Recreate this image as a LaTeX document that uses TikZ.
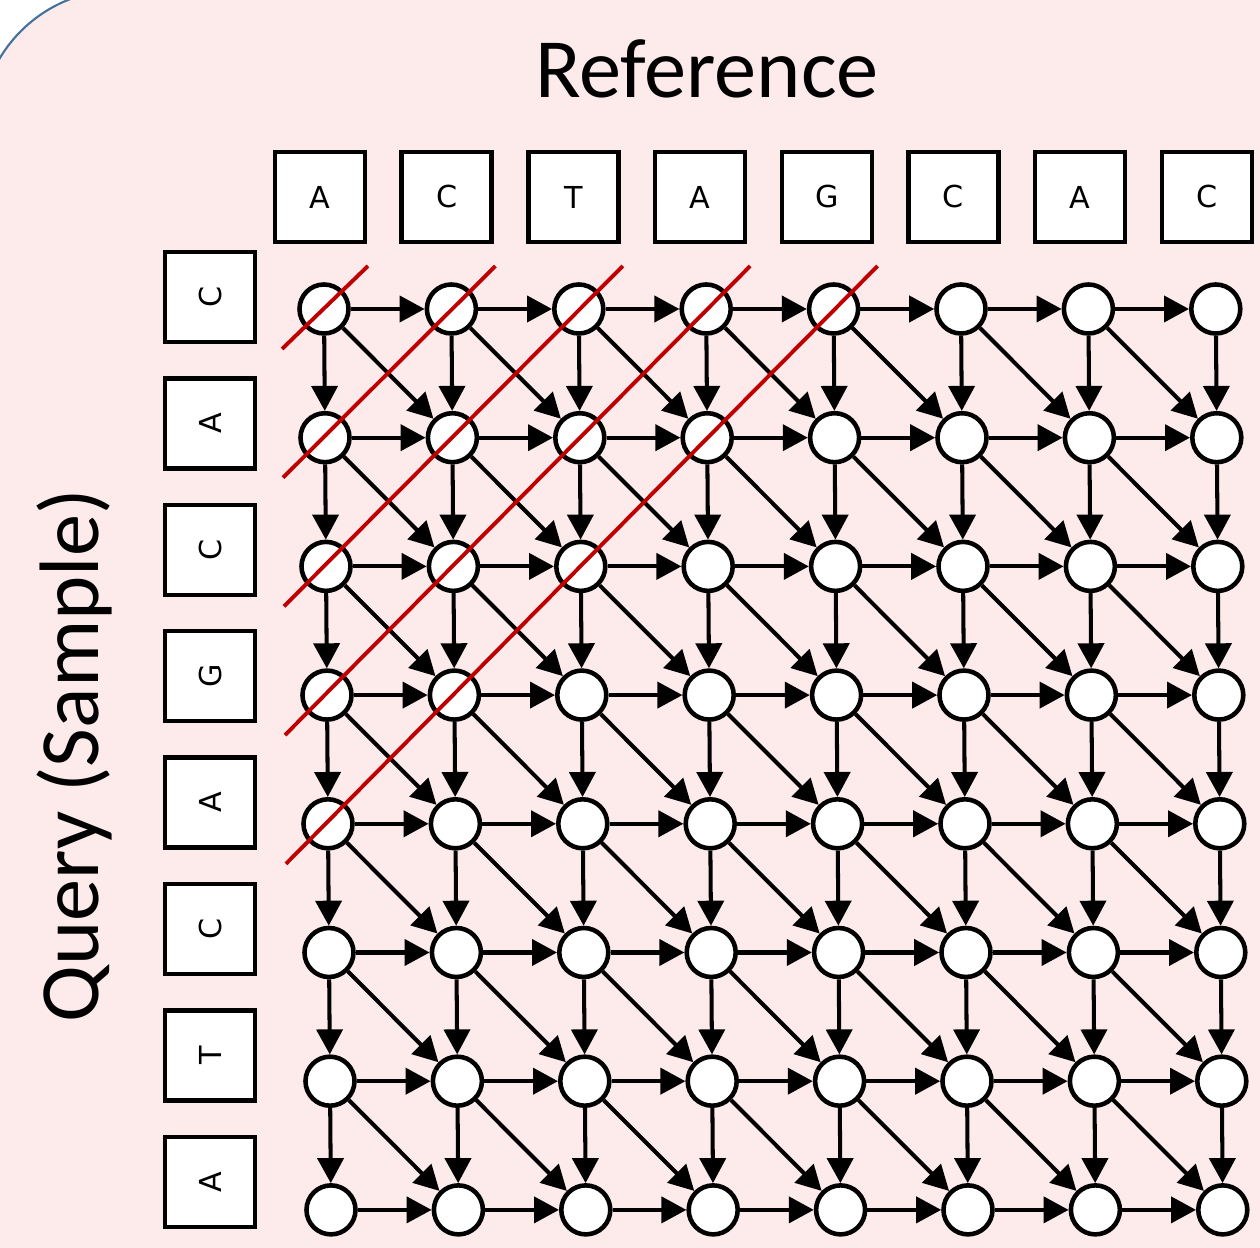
\documentclass[tikz,border=0pt]{standalone}
\usepackage{fontspec}
\setmainfont{Carlito}
\newfontfamily\basefont{DejaVu Sans}
\usetikzlibrary{arrows.meta, calc}

\definecolor{slidepink}{RGB}{253,235,236}
\definecolor{slideblue}{RGB}{65,113,156}
\definecolor{diagred}{RGB}{192,0,0}

\tikzset{
  letterbox/.style={draw, fill=white, line width=1.3pt, minimum size=0.9cm, inner sep=0pt,
    font=\basefont\fontsize{8.6}{10}\selectfont},
  cell/.style={circle, draw, fill=white, line width=1.3pt, minimum size=0.49cm, inner sep=0pt},
  move/.style={line width=1.15pt, -{Triangle[length=2.5mm, width=2.6mm]}},
  cutline/.style={diagred, line width=1.1pt},
  bigtext/.style={font=\fontsize{24}{28}\selectfont}
}

\begin{document}
\begin{tikzpicture}
  \useasboundingbox (0,0) rectangle (12.6,-12.48);
  \clip (0,0) rectangle (12.6,-12.48);
  \draw[fill=slidepink, draw=slideblue, line width=0.6pt, rounded corners=1.4cm] (-0.2,0.1) rectangle (15,-15);

  \node[bigtext, anchor=base] (reftitle) at (7.07,-0.98) {Reference};
  \node[bigtext, anchor=base, rotate=90] (qrytitle) at (0.99,-7.56) {Query (Sample)};

  % reference bases along the top
  \foreach \b [count=\c] in {A,C,T,A,G,C,A,C}
    \node[letterbox] (ref-\c) at ({3.20+1.267*(\c-1)},-1.97) {\b};

  % query bases down the side
  \foreach \b [count=\r] in {C,A,C,G,A,C,T,A}
    \node[letterbox, rotate=90] (qry-\r) at (2.10,{-2.97-1.264*(\r-1)}) {\b};

  % the alignment grid
  \foreach \r in {1,...,8}
    \foreach \c in {1,...,8}
      \node[cell] (n-\r-\c) at ({3.24+1.274*(\c-1)+0.01*(\r-1)},{-3.09-1.287*(\r-1)}) {};

  % right moves
  \foreach \r in {1,...,8}
    \foreach \c in {1,...,7} {
      \pgfmathtruncatemacro\cn{\c+1}
      \draw[move] (n-\r-\c) -- (n-\r-\cn);
    }
  % down moves
  \foreach \r in {1,...,7}
    \foreach \c in {1,...,8} {
      \pgfmathtruncatemacro\rn{\r+1}
      \draw[move] (n-\r-\c) -- (n-\rn-\c);
    }
  % diagonal moves
  \foreach \r in {1,...,7}
    \foreach \c in {1,...,7} {
      \pgfmathtruncatemacro\rn{\r+1}
      \pgfmathtruncatemacro\cn{\c+1}
      \draw[move] (n-\r-\c) -- (n-\rn-\cn);
    }

  % anti-diagonals
  \foreach \k in {1,...,5}
    \draw[cutline] ($(n-\k-1)+(-0.42,-0.40)$) -- ($(n-1-\k)+(0.44,0.43)$);
\end{tikzpicture}
\end{document}
